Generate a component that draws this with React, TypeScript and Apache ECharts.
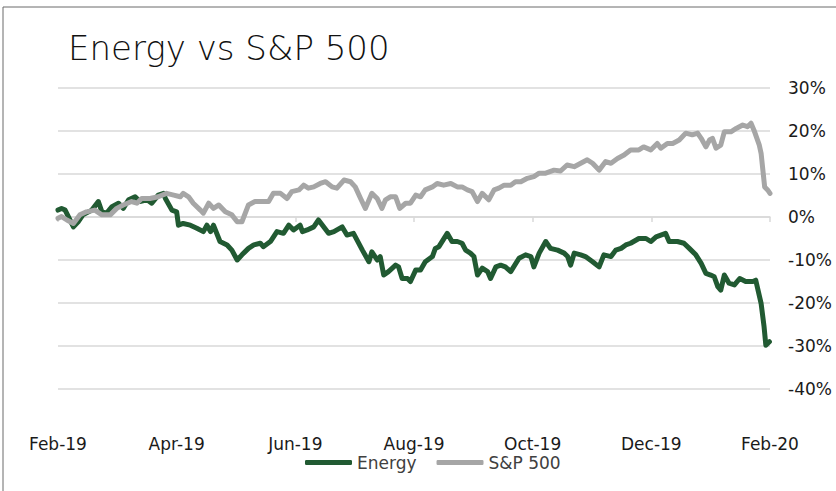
import React, { useEffect, useRef } from "react";
import * as echarts from "echarts";

// x values: months since Feb-19 (0 = Feb-19, 12 = Feb-20); y values: cumulative % change
const xTickLabels = ["Feb-19", "Apr-19", "Jun-19", "Aug-19", "Oct-19", "Dec-19", "Feb-20"];
const yTicks = [-40, -30, -20, -10, 0, 10, 20, 30];

const energyX = [
  0.0, 0.06, 0.12, 0.26, 0.34, 0.42, 0.57, 0.68, 0.74, 0.82, 0.91, 1.02, 1.1, 1.19, 1.3, 1.38, 1.5, 1.58, 1.69, 1.78,
  1.81, 1.92, 2.0, 2.03, 2.11, 2.23, 2.34, 2.45, 2.51, 2.57, 2.62, 2.73, 2.85, 2.93, 3.02, 3.1, 3.21, 3.3, 3.41, 3.46,
  3.58, 3.69, 3.8, 3.89, 3.97, 4.08, 4.12, 4.2, 4.31, 4.39, 4.56, 4.65, 4.79, 4.87, 4.98, 5.13, 5.24, 5.29, 5.38, 5.43,
  5.49, 5.57, 5.69, 5.74, 5.8, 5.89, 5.94, 6.03, 6.11, 6.19, 6.31, 6.36, 6.42, 6.56, 6.64, 6.73, 6.81, 6.87, 6.95, 7.01,
  7.07, 7.15, 7.24, 7.29, 7.38, 7.46, 7.54, 7.63, 7.77, 7.88, 7.97, 8.02, 8.11, 8.22, 8.3, 8.42, 8.53, 8.59, 8.64, 8.7,
  8.81, 8.89, 9.01, 9.12, 9.2, 9.32, 9.4, 9.49, 9.57, 9.65, 9.79, 9.91, 9.99, 10.08, 10.16, 10.24, 10.3, 10.44, 10.55, 10.64,
  10.75, 10.84, 10.92, 11.0, 11.06, 11.12, 11.17, 11.23, 11.31, 11.4, 11.49, 11.59, 11.71, 11.76, 11.85, 11.9, 11.93, 11.99,
];
const energyY = [
  1.6, 2.0, 1.6, -2.3, -1.1, 0.5, 1.6, 3.6, 1.2, 0.9, 2.4, 3.2, 2.0, 4.0, 4.7, 3.6, 4.0, 3.2, 5.1, 5.5,
  4.3, 1.6, 1.2, -1.9, -1.5, -1.9, -2.6, -3.4, -1.9, -3.4, -1.9, -5.7, -6.5, -7.7, -10.0, -8.8, -7.3, -6.5, -6.1, -6.9,
  -5.7, -3.4, -3.8, -1.9, -3.0, -1.9, -3.4, -3.0, -2.3, -0.7, -3.8, -3.4, -2.3, -4.2, -3.8, -7.7, -10.4, -8.1, -10.0, -9.2,
  -13.5, -12.7, -11.2, -11.6, -14.3, -14.3, -15.0, -12.3, -12.3, -10.4, -9.2, -7.3, -6.9, -3.8, -5.7, -5.7, -6.1, -7.7, -8.4, -9.2,
  -13.5, -11.9, -12.7, -14.3, -11.6, -11.2, -11.6, -12.7, -9.6, -8.8, -9.2, -11.6, -8.4, -5.7, -7.3, -7.7, -8.4, -9.2, -11.2, -8.4,
  -8.8, -9.2, -10.4, -11.6, -8.8, -9.2, -7.7, -7.3, -6.5, -6.1, -5.0, -5.0, -5.7, -4.6, -4.2, -3.8, -5.7, -5.7, -6.1, -7.3,
  -8.8, -10.8, -13.1, -13.5, -13.9, -16.2, -17.0, -13.5, -15.4, -15.8, -14.3, -15.0, -15.0, -14.7, -20.1, -25.5, -29.8, -29.0,
];

const spX = [
  0.0, 0.06, 0.15, 0.26, 0.37, 0.48, 0.62, 0.74, 0.88, 0.99, 1.1, 1.24, 1.33, 1.41, 1.55, 1.69, 1.83, 1.95, 2.06, 2.11,
  2.2, 2.28, 2.4, 2.45, 2.54, 2.62, 2.71, 2.82, 2.93, 3.02, 3.1, 3.21, 3.32, 3.44, 3.55, 3.63, 3.75, 3.86, 3.94, 4.06,
  4.14, 4.22, 4.31, 4.42, 4.51, 4.62, 4.7, 4.82, 4.93, 5.01, 5.1, 5.18, 5.29, 5.38, 5.46, 5.52, 5.6, 5.69, 5.76, 5.86,
  5.94, 6.03, 6.11, 6.19, 6.31, 6.39, 6.5, 6.62, 6.73, 6.81, 6.9, 6.98, 7.07, 7.15, 7.26, 7.35, 7.43, 7.52, 7.63, 7.71,
  7.8, 7.91, 8.02, 8.11, 8.22, 8.36, 8.47, 8.58, 8.7, 8.81, 8.92, 9.01, 9.12, 9.23, 9.32, 9.43, 9.54, 9.65, 9.79, 9.87,
  9.99, 10.1, 10.16, 10.27, 10.36, 10.47, 10.58, 10.69, 10.78, 10.84, 10.92, 10.98, 11.03, 11.09, 11.17, 11.23, 11.34, 11.43, 11.54, 11.62,
  11.68, 11.73, 11.82, 11.85, 11.88, 11.91, 11.96, 12.0,
];
const spY = [
  -0.3, 0.1, -0.7, -1.5, 0.5, 1.2, 1.6, 0.5, 0.5, 2.0, 2.8, 3.6, 3.2, 4.3, 4.3, 4.7, 5.5, 5.1, 4.7, 5.5,
  4.7, 3.2, 1.6, 0.9, 3.2, 2.0, 2.8, 1.2, 0.5, -1.1, -1.1, 2.8, 3.6, 3.6, 3.6, 5.5, 5.5, 4.3, 5.9, 6.3,
  7.4, 6.7, 7.0, 7.8, 8.2, 7.0, 6.7, 8.6, 8.2, 7.0, 4.3, 2.0, 5.5, 4.3, 2.0, 4.0, 4.7, 4.7, 2.0, 3.2,
  3.2, 5.1, 4.7, 6.3, 7.0, 7.8, 7.4, 7.8, 7.0, 7.0, 6.3, 5.9, 3.6, 5.5, 4.0, 6.3, 6.7, 7.4, 7.4, 8.2,
  8.2, 9.0, 9.4, 10.2, 10.2, 10.9, 10.7, 12.1, 11.7, 12.5, 13.3, 12.5, 10.9, 12.9, 12.5, 13.6, 14.4, 15.6, 15.6, 16.3,
  15.6, 17.1, 16.0, 17.1, 17.1, 17.9, 19.5, 19.1, 19.5, 18.3, 16.3, 17.9, 18.3, 16.0, 16.7, 19.8, 19.8, 20.6, 21.4, 21.0,
  21.8, 20.2, 16.7, 14.8, 10.9, 7.0, 6.3, 5.5,
];

const FONT = "DejaVu Sans";

export default function App() {
  const ref = useRef<HTMLDivElement>(null);
  useEffect(() => {
    if (!ref.current) return;
    const chart = echarts.init(ref.current, null, { renderer: "svg" });
    const energyData = energyX.map((x, i) => [x, energyY[i]]);
    const spData = spX.map((x, i) => [x, spY[i]]);
    chart.setOption({
      animation: false,
      backgroundColor: "#ffffff",
      title: {
        text: "Energy vs S&P 500",
        left: 63,
        top: 26,
        textStyle: { fontFamily: FONT, fontSize: 34, fontWeight: 200, color: "#111111" },
      },
      graphic: [
        {
          type: "rect",
          shape: { x: 3, y: 7, width: 850, height: 500 },
          style: { fill: "none", stroke: "#6b6b6b", lineWidth: 1 },
          silent: true,
        },
      ],
      legend: {
        left: 300,
        top: 449,
        itemWidth: 47,
        itemHeight: 5,
        itemGap: 20,
        icon: "roundRect",
        textStyle: { fontFamily: FONT, fontSize: 17, color: "#404040" },
        data: ["Energy", "S&P 500"],
      },
      grid: { left: 58, right: 66, top: 88, bottom: 102, containLabel: false },
      xAxis: [
        {
          type: "value",
          min: 0,
          max: 12,
          interval: 2,
          position: "bottom",
          axisLine: { show: false, onZero: false },
          axisTick: { show: false },
          splitLine: { show: false },
          axisLabel: {
            margin: 46,
            showMinLabel: true,
            showMaxLabel: true,
            fontFamily: FONT,
            fontSize: 17,
            color: "#1a1a1a",
            formatter: (v: number) => xTickLabels[Math.round(v / 2)] ?? "",
          },
        },
        {
          type: "value",
          min: 0,
          max: 12,
          interval: 2,
          position: "bottom",
          axisLine: { show: true, onZero: true, lineStyle: { color: "#d9d9d9", width: 1.5 } },
          axisTick: { show: true, length: 5, lineStyle: { color: "#d9d9d9", width: 1.5 } },
          axisLabel: { show: false },
          splitLine: { show: false },
        },
      ],
      yAxis: {
        type: "value",
        position: "right",
        min: -40,
        max: 30,
        interval: 10,
        axisLine: { show: false },
        axisTick: { show: false },
        splitLine: { show: true, lineStyle: { color: "#d9d9d9", width: 1.5 } },
        axisLabel: {
          margin: 18,
          fontFamily: FONT,
          fontSize: 17,
          color: "#1a1a1a",
          formatter: (v: number) => (yTicks.includes(v) ? v + "%" : ""),
        },
      },
      series: [
        {
          name: "Energy",
          type: "line",
          xAxisIndex: 0,
          data: energyData,
          showSymbol: false,
          symbol: "none",
          color: "#215a32",
          lineStyle: { color: "#215a32", width: 5, join: "round", cap: "round" },
        },
        {
          name: "S&P 500",
          type: "line",
          xAxisIndex: 0,
          data: spData,
          showSymbol: false,
          symbol: "none",
          color: "#a6a6a6",
          lineStyle: { color: "#a6a6a6", width: 5, join: "round", cap: "round" },
        },
      ],
    });
    return () => chart.dispose();
  }, []);
  return (
    <div
      ref={ref}
      style={{ position: "absolute", left: 0, top: 0, width: 836, height: 491 }}
    />
  );
}
